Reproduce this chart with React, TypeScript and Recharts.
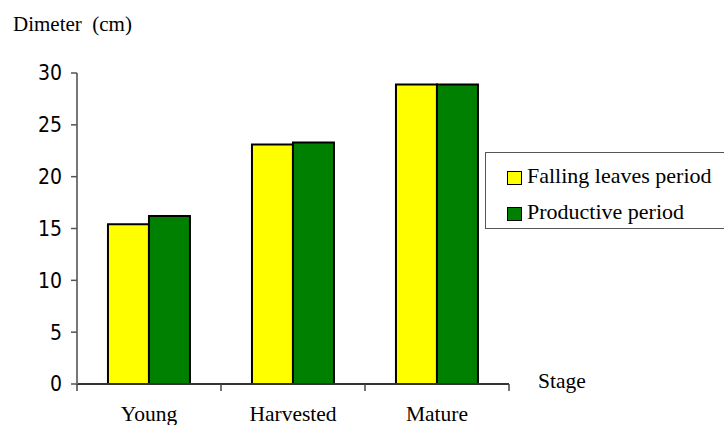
import { BarChart, Bar, XAxis, YAxis, Legend, Label } from 'recharts';

const stages = ['Young', 'Harvested', 'Mature'];
const fallingLeaves = [15.4, 23.1, 28.9];
const productive = [16.2, 23.3, 28.9];
const yTicks = [0, 5, 10, 15, 20, 25, 30];

const SERIES = [
  { key: 'falling', name: 'Falling leaves period', color: '#FFFF00' },
  { key: 'productive', name: 'Productive period', color: '#008000' },
];

const data = stages.map((stage, i) => ({
  stage,
  falling: fallingLeaves[i],
  productive: productive[i],
}));

const SERIF = "'Liberation Serif', 'DejaVu Serif', 'Times New Roman', Times, serif";
const SANS = "'DejaVu Sans Condensed', 'DejaVu Sans', sans-serif";

interface StageTickProps {
  x?: number;
  y?: number;
  width?: number;
  index?: number;
  visibleTicksCount?: number;
  payload?: { value: string };
}

// label at the band centre, tick marks on the band edges
function StageTick({ x = 0, y = 0, width = 0, index = 0, visibleTicksCount = 1, payload }: StageTickProps) {
  const half = width / visibleTicksCount / 2;
  const last = index === visibleTicksCount - 1;
  return (
    <g>
      <line x1={x - half} x2={x - half} y1={y} y2={y + 7} stroke="#444" strokeWidth={1.5} />
      {last && <line x1={x + half} x2={x + half} y1={y} y2={y + 7} stroke="#444" strokeWidth={1.5} />}
      <text x={x} y={y + 37} textAnchor="middle" style={{ fontFamily: SERIF, fontSize: 21.5 }} fill="#000">
        {payload?.value}
      </text>
    </g>
  );
}

function LegendBox() {
  return (
    <div
      style={{
        border: '1.5px solid #555',
        background: '#fff',
        padding: '8px 0 10px 21px',
        boxSizing: 'border-box',
        height: 77,
        textAlign: 'left',
      }}
    >
      {SERIES.map((s) => (
        <div key={s.key} style={{ display: 'flex', alignItems: 'center', height: 30, marginBottom: 6 }}>
          <span
            style={{
              display: 'inline-block',
              width: 13,
              height: 12,
              background: s.color,
              border: '1.5px solid #000',
              marginRight: 5,
              marginTop: 4,
            }}
          />
          <span style={{ fontFamily: SERIF, fontSize: 22, color: '#000' }}>{s.name}</span>
        </div>
      ))}
    </div>
  );
}

export default function App() {
  return (
    <div
      style={{
        position: 'absolute',
        left: 0,
        top: 0,
        width: 724,
        height: 425,
        overflow: 'hidden',
        background: '#fff',
      }}
    >
      <BarChart
        width={724}
        height={425}
        data={data}
        margin={{ top: 73, right: 215, bottom: 1, left: 0 }}
        barCategoryGap="21.5%"
        barGap={0}
      >
        <XAxis
          dataKey="stage"
          height={40}
          tickSize={0}
          tickMargin={0}
          tickLine={false}
          axisLine={{ stroke: '#333', strokeWidth: 2 }}
          tick={<StageTick />}
          interval={0}
        >
          <Label
            content={({ viewBox }: any) => (
              <text
                x={viewBox.x + viewBox.width + 29}
                y={viewBox.y + 4}
                style={{ fontFamily: SERIF, fontSize: 21.5 }}
                fill="#000"
              >
                Stage
              </text>
            )}
          />
        </XAxis>
        <YAxis
          width={77}
          domain={[0, 30]}
          ticks={yTicks}
          interval={0}
          tickSize={6}
          tickMargin={9}
          axisLine={{ stroke: '#777', strokeWidth: 2 }}
          tickLine={{ stroke: '#555', strokeWidth: 1.5 }}
          tick={{ fill: '#000', fontSize: 21, fontFamily: SANS }}
        >
          <Label
            content={({ viewBox }: any) => (
              <text
                x={13}
                y={viewBox.y - 42}
                style={{ fontFamily: SERIF, fontSize: 21, whiteSpace: 'pre' }}
                fill="#000"
              >
                {'Dimeter  (cm)'}
              </text>
            )}
          />
        </YAxis>
        <Legend
          layout="horizontal"
          verticalAlign="middle"
          align="center"
          content={() => <LegendBox />}
          wrapperStyle={{ position: 'absolute', left: 485, top: 152, width: 260, bottom: 'auto' }}
        />
        {SERIES.map((s) => (
          <Bar
            key={s.key}
            dataKey={s.key}
            name={s.name}
            fill={s.color}
            stroke="#000"
            strokeWidth={2}
            isAnimationActive={false}
          />
        ))}
      </BarChart>
    </div>
  );
}
